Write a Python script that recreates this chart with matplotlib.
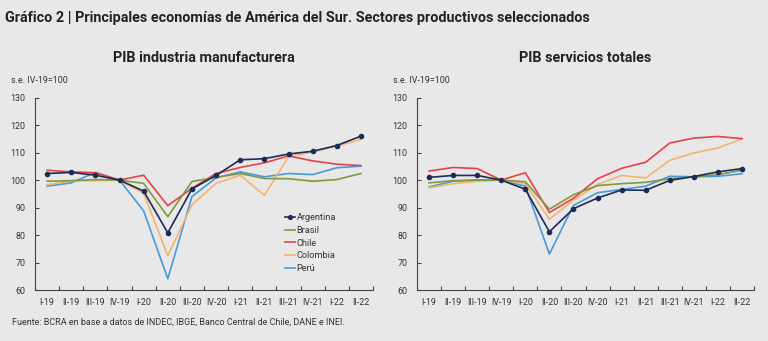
import numpy as np
import matplotlib.pyplot as plt

### DATOS ###
trimestres = ['I-19','II-19','III-19','IV-19','I-20','II-20','III-20','IV-20',
              'I-21','II-21','III-21','IV-21','I-22','II-22']
paises = ['Argentina','Brasil','Chile','Colombia','Perú']
farben = ['#1c2b5a','#7f9a3a','#e5414b','#f5b46c','#4a9ad6']

# PIB industria manufacturera
ind_arg = [102.4,102.8,101.8,100,96.0,80.8,96.8,101.7,107.4,107.8,109.5,110.5,112.6,116.0]
ind_bra = [99.6,99.8,100.2,100,98.8,86.7,99.5,101.0,102.4,100.6,100.5,99.6,100.2,102.4]
ind_chi = [103.6,103.0,102.7,100,101.8,90.7,97.0,102.4,104.6,106.3,108.8,107.0,105.8,105.3]
ind_col = [98.3,99.7,99.8,100,95.2,72.5,91.0,98.8,101.8,94.5,108.5,110.2,112.4,114.8]
ind_per = [97.8,99.0,102.8,100,88.8,64.1,94.0,100.8,103.0,101.2,102.4,102.0,104.5,105.1]

# PIB servicios totales
ser_arg = [101.0,101.7,101.7,100,96.7,81.2,89.6,93.5,96.4,96.3,99.9,101.3,103.0,104.2]
ser_bra = [99.0,99.8,100.0,100,99.4,89.4,94.7,98.0,98.7,99.2,100.5,101.2,102.0,103.6]
ser_chi = [103.3,104.6,104.2,100,102.7,88.2,93.4,100.5,104.3,106.5,113.5,115.3,115.9,115.1]
ser_col = [97.2,98.7,99.6,100,98.7,85.8,92.7,98.4,101.7,100.8,107.2,109.9,111.7,115.0]
ser_per = [97.5,99.6,100.0,100,97.8,73.1,90.8,95.4,96.6,97.8,101.4,101.2,101.4,102.3]

fondo = '#e8e8e8'
plt.rcParams['font.family'] = ['Roboto', 'DejaVu Sans']

fig = plt.figure(figsize=(7.68, 3.41), dpi=100, facecolor=fondo)

fig.text(5/768, 1-18/341, 'Gráfico 2 | Principales economías de América del Sur. Sectores productivos seleccionados',
	fontsize=10.4, fontweight='bold', color='#222222', va='center', ha='left')
fig.text(12/768, 1-322/341, 'Fuente: BCRA en base a datos de INDEC, IBGE, Banco Central de Chile, DANE e INEI.',
	fontsize=6.5, color='#333333', va='center', ha='left')

def panel(rect, titel, serien, legende=False):
	ax = fig.add_axes(rect)
	ax.set_facecolor(fondo)
	x = np.arange(len(trimestres))
	for i, (name, vals) in enumerate(zip(paises, serien)):
		if i == 0:
			ax.plot(x, vals, color=farben[i], lw=1.2, marker='o', ms=3.0, label=name, zorder=6)
		else:
			ax.plot(x, vals, color=farben[i], lw=1.2, label=name, zorder=5 - i)
	ax.set_xlim(-0.5, 13.5)
	ax.set_ylim(60, 130)
	ax.set_yticks(np.arange(60, 131, 10))
	ax.set_xticks(np.arange(-0.5, 14, 1))
	ax.set_xticklabels([])
	ax.set_xticks(x, minor=True)
	ax.set_xticklabels(trimestres, minor=True)
	ax.tick_params(axis='x', which='major', direction='in', length=3, color='#444444', width=0.8)
	ax.tick_params(axis='x', which='minor', length=0, pad=6, labelsize=6.4, labelcolor='#333333')
	ax.tick_params(axis='y', direction='in', length=3, color='#444444', width=0.8,
		labelsize=6.4, labelcolor='#333333', pad=7)
	for s in ['top', 'right']:
		ax.spines[s].set_visible(False)
	for s in ['left', 'bottom']:
		ax.spines[s].set_color('#444444')
		ax.spines[s].set_linewidth(0.8)
	ax.set_title(titel, fontsize=10.4, fontweight='bold', color='#222222', pad=26)
	ax.text(-0.07, 1.09, 's.e. IV-19=100', transform=ax.transAxes, fontsize=6.4,
		color='#333333', va='center', ha='left')
	if legende:
		ax.legend(loc='lower left', bbox_to_anchor=(0.73, 0.07), frameon=False,
			fontsize=6.6, handlelength=1.0, handletextpad=0.2, labelspacing=0.4,
			borderaxespad=0, markerscale=0.9, labelcolor='#333333')
	return ax

panel([35/768, 51/341, 338/768, 192.3/341], 'PIB industria manufacturera',
	[ind_arg, ind_bra, ind_chi, ind_col, ind_per], legende=True)
panel([417/768, 51/341, 337/768, 192.3/341], 'PIB servicios totales',
	[ser_arg, ser_bra, ser_chi, ser_col, ser_per])

fig.savefig('out.png', dpi=100, facecolor=fondo)
